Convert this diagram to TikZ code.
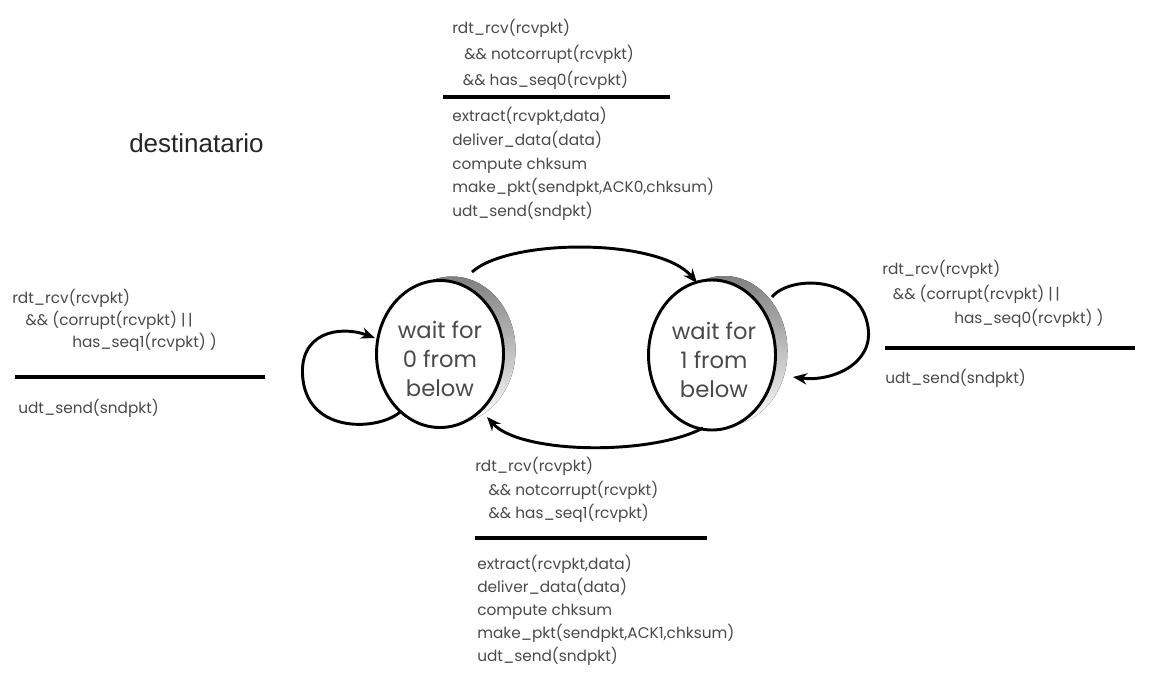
\documentclass[tikz,border=0pt]{standalone}
\usepackage{fontspec}
\setmainfont{Poppins}
\newfontfamily\titlefont{Liberation Sans}
\usetikzlibrary{arrows.meta,calc,shapes.geometric}
\definecolor{ink}{HTML}{4A4A4A}
\definecolor{shade}{HTML}{555555}
\begin{document}
\begin{tikzpicture}[x=0.75pt,y=-0.75pt,
  state/.style={ellipse, draw=black, line width=2.2pt, fill=white,
    minimum width=95.25pt, minimum height=110.25pt, inner sep=0pt},
  statetext/.style={align=center, text=ink, inner sep=0pt,
    font=\fontsize{17}{21.75}\selectfont},
  lbl/.style={anchor=north west, inner sep=0pt, align=left, text=ink},
  rule/.style={line width=2.4pt, draw=black},
  trans/.style={line width=2.2pt, -{Stealth[length=10.5pt,width=8.5pt]}}]
\useasboundingbox[fill=white] (0,0) rectangle (1151,682);

% title
\node[anchor=base west, inner sep=0pt, text=black!85,
  font=\titlefont\fontsize{19.5}{24}\selectfont] (title) at (129,152) {destinatario};

% shaded rims behind the two states
\fill[shade] (452,350) ellipse [x radius=63.5, y radius=73.5];
\fill[shade] (724,351) ellipse [x radius=63.5, y radius=75];

% states
\node[state] (L) at (440,354) {};
\node[state, minimum height=112.5pt] (R) at (712,355) {};
\node[statetext] (Lt) at ($(L)+(0,5)$) {wait for\\0 from\\below};
\node[statetext] (Rt) at ($(R)+(2,5)$) {wait for\\1 from\\below};

% transitions
\draw[trans] ($(L)+(32,-82)$) .. controls (510,238) and (660,238) .. ($(R)+(-15,-72)$);
\draw[trans] ($(R)+(-9,73)$) .. controls (650,456) and (520,454) .. ($(L)+(47,63)$);
\draw[trans] ($(L)+(-40,58)$) .. controls (380,430) and (310,435) .. (303,380)
   .. controls (297,332) and (340,325) .. ($(L)+(-65,-16)$);
\draw[trans] ($(R)+(60,-58)$) .. controls (790,275) and (860,275) .. (868,327)
   .. controls (874,365) and (830,382) .. ($(R)+(81,22)$);

% top label: 0 -> 1
\node[lbl, font=\fontsize{11.5}{19.5}\selectfont] (tc) at (452,19)
  {rdt\_rcv(rcvpkt)\\\hspace*{9pt}\&\& notcorrupt(rcvpkt)\\\hspace*{8pt}\&\& has\_seq0(rcvpkt)};
\draw[rule] (443,97) -- (670,97);
\node[lbl, font=\fontsize{11.5}{17.8}\selectfont] (ta) at (452,107)
  {extract(rcvpkt,data)\\deliver\_data(data)\\compute chksum\\make\_pkt(sendpkt,ACK0,chksum)\\udt\_send(sndpkt)};

% left label: self loop on state 0
\node[lbl, font=\fontsize{11.5}{16.5}\selectfont] (lc) at (12,289)
  {rdt\_rcv(rcvpkt)\\\hspace*{10pt}\&\& (corrupt(rcvpkt) |\,|\\\hspace*{45pt}has\_seq1(rcvpkt) )};
\draw[rule] (15,377) -- (265,377);
\node[lbl, font=\fontsize{11.5}{17}\selectfont] (la) at (18,399) {udt\_send(sndpkt)};

% right label: self loop on state 1
\node[lbl, font=\fontsize{11.5}{18.4}\selectfont] (rc) at (882,260)
  {rdt\_rcv(rcvpkt)\\\hspace*{8pt}\&\& (corrupt(rcvpkt) |\,|\\\hspace*{54pt}has\_seq0(rcvpkt) )};
\draw[rule] (885,348) -- (1135,348);
\node[lbl, font=\fontsize{11.5}{17}\selectfont] (ra) at (885,369) {udt\_send(sndpkt)};

% bottom label: 1 -> 0
\node[lbl, font=\fontsize{11.5}{17.6}\selectfont] (bc) at (475,457)
  {rdt\_rcv(rcvpkt)\\\hspace*{10pt}\&\& notcorrupt(rcvpkt)\\\hspace*{10pt}\&\& has\_seq1(rcvpkt)};
\draw[rule] (475,538) -- (707,538);
\node[lbl, font=\fontsize{11.5}{17.25}\selectfont] (ba) at (477,555)
  {extract(rcvpkt,data)\\deliver\_data(data)\\compute chksum\\make\_pkt(sendpkt,ACK1,chksum)\\udt\_send(sndpkt)};
\end{tikzpicture}
\end{document}
